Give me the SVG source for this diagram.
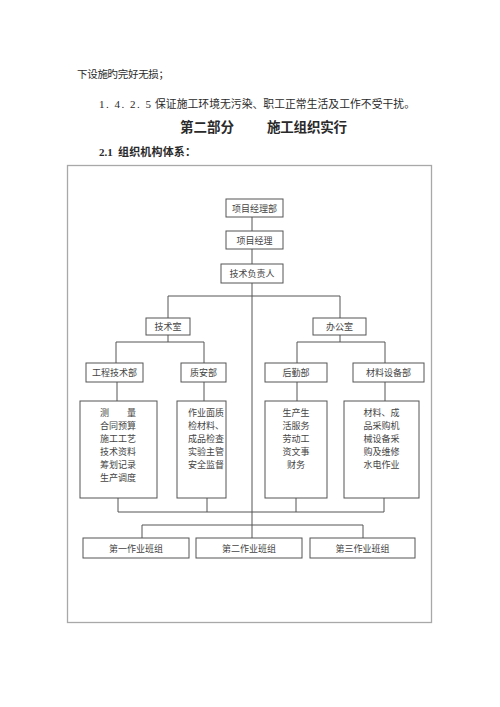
<svg xmlns="http://www.w3.org/2000/svg" width="500" height="707" viewBox="0 0 500 707">
<style>
.body{font-family:"Noto Sans CJK SC","Liberation Serif",serif;fill:#2a2a2a;}
.num{font-family:"Liberation Serif","Noto Sans CJK SC",serif;fill:#2a2a2a;}
.box{fill:#fff;stroke:#555;stroke-width:1;}
.frame{fill:none;stroke:#a8a8a8;stroke-width:1.3;}
.lbl{font-family:"Noto Sans CJK SC",sans-serif;font-size:9px;fill:#444;text-anchor:middle;dominant-baseline:central;}
.conn line{stroke:#555;stroke-width:1;}
</style>
<rect width="500" height="707" fill="#fff"/>
<text class="body" x="77" y="78" font-size="10.5" textLength="92">下设施旳完好无损；</text>
<text class="num" x="99" y="108" font-size="11" textLength="52">1. 4. 2. 5</text>
<text class="body" x="155" y="108" font-size="10.8" textLength="260">保证施工环境无污染、职工正常生活及工作不受干扰。</text>
<text class="body" x="180" y="132" font-size="13.5" font-weight="bold" textLength="54">第二部分</text>
<text class="body" x="267" y="132" font-size="13.5" font-weight="bold" textLength="80">施工组织实行</text>
<text class="num" x="99" y="156" font-size="11" font-weight="bold">2.1</text>
<text class="body" x="118" y="156" font-size="11" font-weight="bold" textLength="78">组织机构体系：</text>
<rect class="frame" x="67.5" y="165.5" width="364" height="457"/>
<g id="connectors" class="conn">
<line x1="252" y1="217" x2="252" y2="231"/>
<line x1="252" y1="249" x2="252" y2="264"/>
<line x1="252" y1="283" x2="252" y2="538"/>
<line x1="168" y1="296" x2="340" y2="296"/>
<line x1="168" y1="296" x2="168" y2="318"/>
<line x1="340" y1="296" x2="340" y2="318"/>
<line x1="168" y1="335" x2="168" y2="342"/>
<line x1="116" y1="342" x2="204" y2="342"/>
<line x1="116" y1="342" x2="116" y2="363"/>
<line x1="204" y1="342" x2="204" y2="363"/>
<line x1="340" y1="335" x2="340" y2="342"/>
<line x1="297" y1="342" x2="385" y2="342"/>
<line x1="297" y1="342" x2="297" y2="363"/>
<line x1="385" y1="342" x2="385" y2="363"/>
<line x1="117" y1="382" x2="117" y2="401"/>
<line x1="204" y1="382" x2="204" y2="401"/>
<line x1="297" y1="382" x2="297" y2="401"/>
<line x1="385" y1="382" x2="385" y2="401"/>
<line x1="118" y1="498" x2="118" y2="512"/>
<line x1="207" y1="498" x2="207" y2="512"/>
<line x1="296" y1="498" x2="296" y2="512"/>
<line x1="384" y1="498" x2="384" y2="512"/>
<line x1="118" y1="512" x2="384" y2="512"/>
<line x1="142" y1="525" x2="363" y2="525"/>
<line x1="142" y1="525" x2="142" y2="538"/>
<line x1="363" y1="525" x2="363" y2="538"/>
</g>
<g id="n-xmjlb"><rect class="box" x="226" y="199" width="57" height="18"/><text class="lbl" x="254.5" y="208">项目经理部</text></g>
<g id="n-xmjl"><rect class="box" x="226" y="231" width="57" height="18"/><text class="lbl" x="254.5" y="240">项目经理</text></g>
<g id="n-jsfzr"><rect class="box" x="221" y="264" width="62" height="19"/><text class="lbl" x="252" y="273.5">技术负责人</text></g>
<g id="n-jss"><rect class="box" x="146" y="318" width="44" height="17"/><text class="lbl" x="168" y="326.5">技术室</text></g>
<g id="n-bgs"><rect class="box" x="313" y="318" width="53" height="17"/><text class="lbl" x="339.5" y="326.5">办公室</text></g>
<g id="n-gcjsb"><rect class="box" x="86" y="363" width="57" height="19"/><text class="lbl" x="114.5" y="372.5">工程技术部</text></g>
<g id="n-zab"><rect class="box" x="181" y="363" width="45" height="19"/><text class="lbl" x="203.5" y="372.5">质安部</text></g>
<g id="n-hqb"><rect class="box" x="265" y="363" width="62" height="19"/><text class="lbl" x="296" y="372.5">后勤部</text></g>
<g id="n-clsbb"><rect class="box" x="353" y="363" width="71" height="19"/><text class="lbl" x="388.5" y="372.5">材料设备部</text></g>
<g id="n-t1"><rect class="box" x="80" y="401" width="77" height="97"/>
<text class="lbl" x="118" y="412">测　　量</text>
<text class="lbl" x="118" y="425">合同预算</text>
<text class="lbl" x="118" y="438">施工工艺</text>
<text class="lbl" x="118" y="451">技术资料</text>
<text class="lbl" x="118" y="464">筹划记录</text>
<text class="lbl" x="118" y="477">生产调度</text></g>
<g id="n-t2"><rect class="box" x="177" y="401" width="49" height="97"/>
<text class="lbl" x="206" y="412">作业面质</text>
<text class="lbl" x="206" y="425">检材料、</text>
<text class="lbl" x="206" y="438">成品检查</text>
<text class="lbl" x="206" y="451">实验主管</text>
<text class="lbl" x="206" y="464">安全监督</text></g>
<g id="n-t3"><rect class="box" x="265" y="401" width="62" height="97"/>
<text class="lbl" x="296" y="412">生产生</text>
<text class="lbl" x="296" y="425">活服务</text>
<text class="lbl" x="296" y="438">劳动工</text>
<text class="lbl" x="296" y="451">资文事</text>
<text class="lbl" x="296" y="464">财务</text></g>
<g id="n-t4"><rect class="box" x="344" y="401" width="75" height="97"/>
<text class="lbl" x="381.5" y="412">材料、成</text>
<text class="lbl" x="381.5" y="425">品采购机</text>
<text class="lbl" x="381.5" y="438">械设备采</text>
<text class="lbl" x="381.5" y="451">购及维修</text>
<text class="lbl" x="381.5" y="464">水电作业</text></g>
<g id="n-bz1"><rect class="box" x="83" y="538" width="106" height="20"/><text class="lbl" x="136" y="548">第一作业班组</text></g>
<g id="n-bz2"><rect class="box" x="196" y="538" width="106" height="20"/><text class="lbl" x="249" y="548">第二作业班组</text></g>
<g id="n-bz3"><rect class="box" x="310" y="538" width="105" height="20"/><text class="lbl" x="362.5" y="548">第三作业班组</text></g>
</svg>
